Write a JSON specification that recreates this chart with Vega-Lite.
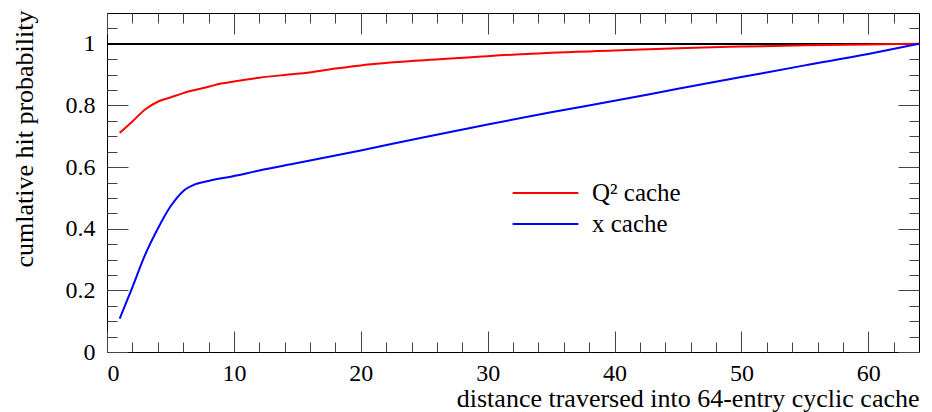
{
  "$schema": "https://vega.github.io/schema/vega-lite/v6.json",
  "width": 812,
  "height": 339,
  "autosize": "none",
  "padding": {"left": 107, "top": 13, "right": 13, "bottom": 60},
  "background": "white",
  "config": {
    "view": {"stroke": "black", "strokeWidth": 1},
    "font": "'Liberation Serif', 'DejaVu Serif', serif",
    "axis": {
      "domain": false,
      "grid": false,
      "labelFont": "'Liberation Serif', 'DejaVu Serif', serif",
      "titleFont": "'Liberation Serif', 'DejaVu Serif', serif",
      "labelColor": "black",
      "titleFontWeight": "normal",
      "titleColor": "black",
      "tickColor": "#444",
      "tickWidth": 1
    },
    "legend": {
      "orient": "none",
      "legendX": 406,
      "legendY": 167.5,
      "padding": 0,
      "symbolType": "M-6,0H6",
      "symbolSize": 120,
      "symbolStrokeWidth": 2,
      "symbolOffset": 20,
      "labelOffset": 34,
      "labelFont": "'Liberation Serif', 'DejaVu Serif', serif",
      "labelFontSize": 25,
      "labelColor": "black",
      "rowPadding": 5
    }
  },
  "data": {
    "values": [
      {"x": 1, "y": 0.711, "series": "Q² cache"},
      {"x": 2, "y": 0.748, "series": "Q² cache"},
      {"x": 3, "y": 0.787, "series": "Q² cache"},
      {"x": 4, "y": 0.812, "series": "Q² cache"},
      {"x": 5, "y": 0.826, "series": "Q² cache"},
      {"x": 6, "y": 0.840, "series": "Q² cache"},
      {"x": 7, "y": 0.851, "series": "Q² cache"},
      {"x": 8, "y": 0.861, "series": "Q² cache"},
      {"x": 9, "y": 0.871, "series": "Q² cache"},
      {"x": 10, "y": 0.878, "series": "Q² cache"},
      {"x": 12, "y": 0.890, "series": "Q² cache"},
      {"x": 14, "y": 0.899, "series": "Q² cache"},
      {"x": 16, "y": 0.907, "series": "Q² cache"},
      {"x": 18, "y": 0.920, "series": "Q² cache"},
      {"x": 20, "y": 0.930, "series": "Q² cache"},
      {"x": 25, "y": 0.947, "series": "Q² cache"},
      {"x": 30, "y": 0.960, "series": "Q² cache"},
      {"x": 35, "y": 0.971, "series": "Q² cache"},
      {"x": 40, "y": 0.978, "series": "Q² cache"},
      {"x": 45, "y": 0.986, "series": "Q² cache"},
      {"x": 50, "y": 0.991, "series": "Q² cache"},
      {"x": 55, "y": 0.995, "series": "Q² cache"},
      {"x": 60, "y": 0.998, "series": "Q² cache"},
      {"x": 64, "y": 1.0, "series": "Q² cache"},
      {"x": 1, "y": 0.108, "series": "x cache"},
      {"x": 2, "y": 0.21, "series": "x cache"},
      {"x": 3, "y": 0.315, "series": "x cache"},
      {"x": 4, "y": 0.40, "series": "x cache"},
      {"x": 5, "y": 0.472, "series": "x cache"},
      {"x": 6, "y": 0.522, "series": "x cache"},
      {"x": 7, "y": 0.545, "series": "x cache"},
      {"x": 8, "y": 0.555, "series": "x cache"},
      {"x": 10, "y": 0.571, "series": "x cache"},
      {"x": 12, "y": 0.589, "series": "x cache"},
      {"x": 15, "y": 0.613, "series": "x cache"},
      {"x": 20, "y": 0.654, "series": "x cache"},
      {"x": 25, "y": 0.697, "series": "x cache"},
      {"x": 30, "y": 0.738, "series": "x cache"},
      {"x": 35, "y": 0.778, "series": "x cache"},
      {"x": 40, "y": 0.815, "series": "x cache"},
      {"x": 45, "y": 0.854, "series": "x cache"},
      {"x": 50, "y": 0.892, "series": "x cache"},
      {"x": 55, "y": 0.930, "series": "x cache"},
      {"x": 60, "y": 0.967, "series": "x cache"},
      {"x": 64, "y": 1.0, "series": "x cache"}
    ]
  },
  "resolve": {"axis": {"x": "independent", "y": "independent"}},
  "layer": [
    {
      "mark": {"type": "rule", "color": "black", "strokeWidth": 1},
      "encoding": {
        "y": {"datum": 1, "type": "quantitative", "scale": {"domain": [0, 1.1], "nice": false}, "axis": null}
      }
    },
    {
      "mark": {"type": "line", "strokeWidth": 2, "interpolate": "monotone"},
      "encoding": {
        "x": {"field": "x", "type": "quantitative", "scale": {"domain": [0, 64], "nice": false},
              "axis": {"orient": "bottom", "values": [0, 10, 20, 30, 40, 50, 60], "format": "d", "ticks": false, "labelPadding": 9,
                       "labelFontSize": 24, "titleFontSize": 26,
                       "title": "distance traversed into 64-entry cyclic cache", "titleAnchor": "end", "titleAlign": "right", "titleX": 812, "titleY": 54, "titleBaseline": "alphabetic"}},
        "y": {"field": "y", "type": "quantitative", "scale": {"domain": [0, 1.1], "nice": false},
              "axis": {"orient": "left", "values": [0, 0.2, 0.4, 0.6, 0.8, 1], "format": "~g", "ticks": false, "labelPadding": 12,
                       "labelFontSize": 24, "titleFontSize": 26,
                       "title": "cumlative hit probability", "titleAnchor": "end", "titleAlign": "right", "titleAngle": 270, "titleX": -75, "titleY": -3, "titleBaseline": "alphabetic"}},
        "color": {"field": "series", "type": "nominal", "scale": {"domain": ["Q² cache", "x cache"], "range": ["#ff0000", "#0000ff"]}, "legend": {"title": null}},
        "detail": {"field": "series"}
      }
    },
    {
      "mark": {"type": "point", "opacity": 0},
      "encoding": {
        "x": {"field": "x", "type": "quantitative", "axis": {"orient": "bottom", "values": [0, 10, 20, 30, 40, 50, 60], "labels": false, "title": null, "tickSize": -21}},
        "y": {"field": "y", "type": "quantitative", "axis": {"orient": "left", "values": [0, 0.2, 0.4, 0.6, 0.8, 1], "labels": false, "title": null, "tickSize": -21}}
      }
    },
    {
      "mark": {"type": "point", "opacity": 0},
      "encoding": {
        "x": {"field": "x", "type": "quantitative", "axis": {"orient": "bottom", "values": [2, 4, 6, 8, 12, 14, 16, 18, 22, 24, 26, 28, 32, 34, 36, 38, 42, 44, 46, 48, 52, 54, 56, 58, 62], "labels": false, "title": null, "tickSize": -10}},
        "y": {"field": "y", "type": "quantitative", "axis": {"orient": "left", "values": [0.05, 0.1, 0.15, 0.25, 0.3, 0.35, 0.45, 0.5, 0.55, 0.65, 0.7, 0.75, 0.85, 0.9, 0.95, 1.05], "labels": false, "title": null, "tickSize": -10}}
      }
    },
    {
      "mark": {"type": "point", "opacity": 0},
      "encoding": {
        "x": {"field": "x", "type": "quantitative", "axis": {"orient": "top", "values": [0, 10, 20, 30, 40, 50, 60], "labels": false, "title": null, "tickSize": -21}},
        "y": {"field": "y", "type": "quantitative", "axis": {"orient": "right", "values": [0, 0.2, 0.4, 0.6, 0.8, 1], "labels": false, "title": null, "tickSize": -21}}
      }
    },
    {
      "mark": {"type": "point", "opacity": 0},
      "encoding": {
        "x": {"field": "x", "type": "quantitative", "axis": {"orient": "top", "values": [2, 4, 6, 8, 12, 14, 16, 18, 22, 24, 26, 28, 32, 34, 36, 38, 42, 44, 46, 48, 52, 54, 56, 58, 62], "labels": false, "title": null, "tickSize": -10}},
        "y": {"field": "y", "type": "quantitative", "axis": {"orient": "right", "values": [0.05, 0.1, 0.15, 0.25, 0.3, 0.35, 0.45, 0.5, 0.55, 0.65, 0.7, 0.75, 0.85, 0.9, 0.95, 1.05], "labels": false, "title": null, "tickSize": -10}}
      }
    }
  ]
}
